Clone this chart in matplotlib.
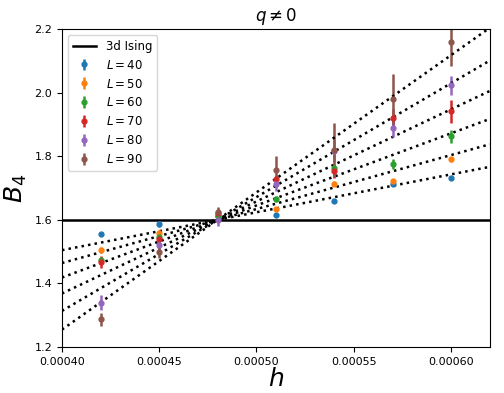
import numpy as np
import matplotlib
matplotlib.use("Agg")
import matplotlib.pyplot as plt

h = np.array([0.00042, 0.00045, 0.00048, 0.00051, 0.00054, 0.00057, 0.00060])
Ls = [40, 50, 60, 70, 80, 90]

B4_L40 = [1.554, 1.587, 1.612, 1.616, 1.660, 1.712, 1.732]
B4_L50 = [1.506, 1.559, 1.615, 1.635, 1.714, 1.722, 1.791]
B4_L60 = [1.474, 1.546, 1.613, 1.665, 1.764, 1.776, 1.863]
B4_L70 = [1.467, 1.541, 1.622, 1.727, 1.753, 1.920, 1.941]
B4_L80 = [1.340, 1.520, 1.600, 1.712, 1.816, 1.890, 2.024]
B4_L90 = [1.287, 1.500, 1.625, 1.756, 1.821, 1.979, 2.160]

err_L40 = [0.005, 0.008, 0.005, 0.005, 0.005, 0.005, 0.005]
err_L50 = [0.008, 0.010, 0.005, 0.006, 0.008, 0.008, 0.008]
err_L60 = [0.010, 0.010, 0.008, 0.010, 0.012, 0.015, 0.020]
err_L70 = [0.020, 0.010, 0.010, 0.015, 0.020, 0.030, 0.035]
err_L80 = [0.025, 0.015, 0.020, 0.020, 0.035, 0.030, 0.030]
err_L90 = [0.020, 0.020, 0.015, 0.045, 0.085, 0.080, 0.075]

# 3d Ising values used for the scaling fit
B4_ising = 1.6
h_c = 0.00048
nu = 0.63

B4s = [B4_L40, B4_L50, B4_L60, B4_L70, B4_L80, B4_L90]
errs = [err_L40, err_L50, err_L60, err_L70, err_L80, err_L90]

# fit B4 = B4_ising + a * (h - h_c) * L^(1/nu), common a for all L
xs, ys = [], []
for L, b in zip(Ls, B4s):
    xs.append((h - h_c) * L ** (1 / nu))
    ys.append(np.array(b) - B4_ising)
xs = np.concatenate(xs)
ys = np.concatenate(ys)
a = np.sum(xs * ys) / np.sum(xs * xs)

fig = plt.figure(figsize=(5.04, 3.93), dpi=100)
ax = fig.add_axes([0.123, 0.117, 0.849, 0.809])

ax.axhline(B4_ising, color='black', linewidth=1.8, label='3d Ising')

hs = np.linspace(0.0004, 0.00062, 100)
for L, b, e in zip(Ls, B4s, errs):
    ax.errorbar(h, b, yerr=e, fmt='o', markersize=3.5, elinewidth=1.8, label=r'$L = %d$' % L)
    ax.plot(hs, B4_ising + a * (hs - h_c) * L ** (1 / nu), ':', color='black', linewidth=1.8)

ax.set_xlim(0.0004, 0.00062)
ax.set_ylim(1.2, 2.2)
ax.set_xticks([0.0004, 0.00045, 0.0005, 0.00055, 0.0006])
ax.set_xticklabels(['0.00040', '0.00045', '0.00050', '0.00055', '0.00060'])
ax.set_yticks([1.2, 1.4, 1.6, 1.8, 2.0, 2.2])
ax.tick_params(labelsize=8)
ax.set_xlabel(r'$h$', fontsize=18, labelpad=0)
ax.set_ylabel(r'$B_4$', fontsize=18)
ax.set_title(r'$q \neq 0$', fontsize=12)
ax.legend(loc='upper left', fontsize=8.5)

plt.savefig('out.png', dpi=100)
